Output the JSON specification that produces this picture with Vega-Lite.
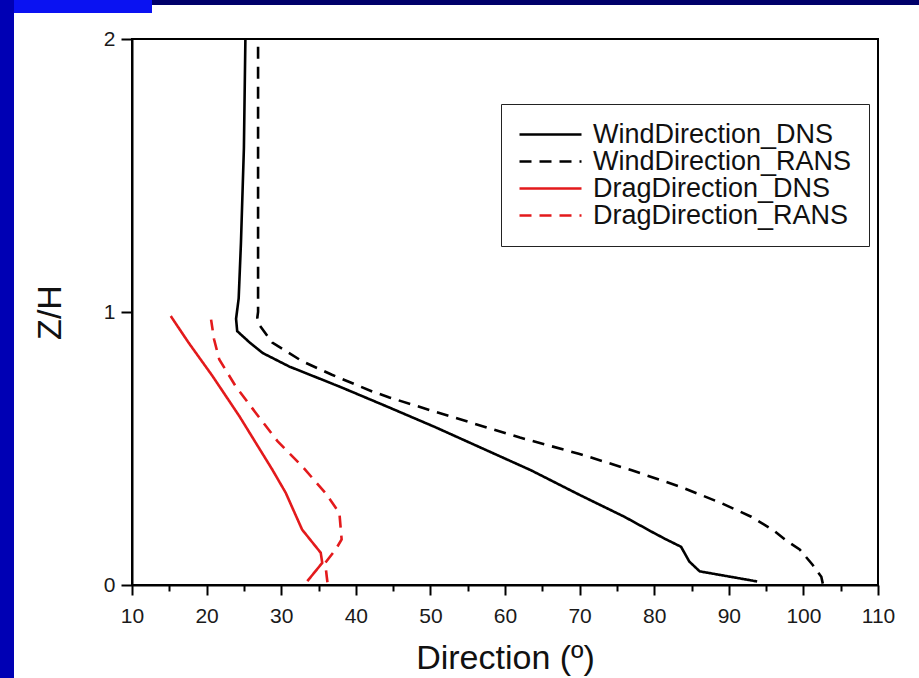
{
  "$schema": "https://vega.github.io/schema/vega-lite/v6.json",
  "background": "white",
  "padding": 0,
  "spacing": 0,
  "config": {"font": "Liberation Sans"},
  "hconcat": [
    {"width": 14, "height": 678, "view": {"fill": "#0000b4", "stroke": null}, "data": {"values": []}, "mark": "rect"},
    {
      "spacing": 0,
      "vconcat": [
        {
          "spacing": 0,
          "hconcat": [
            {"width": 138, "height": 13, "view": {"fill": "#0a12f2", "stroke": null}, "data": {"values": []}, "mark": "rect"},
            {"width": 767, "height": 5, "view": {"fill": "#00006a", "stroke": null}, "data": {"values": []}, "mark": "rect"}
          ]
        },
        {
          "spacing": 17,
          "hconcat": [
            {"width": 1, "height": 1, "view": {"stroke": null}, "data": {"values": []}, "mark": "rect"},
            {
              "width": 746,
              "height": 546,
              "title": {"text": " ", "fontSize": 10, "offset": 4, "anchor": "start"},
              "view": {"stroke": "black", "strokeWidth": 2},
              "data": {
                "values": [
                  {"series": "WindDirection_DNS", "d": 25.2, "z": 2.0},
                  {"series": "WindDirection_DNS", "d": 25.0, "z": 1.6},
                  {"series": "WindDirection_DNS", "d": 24.6, "z": 1.25},
                  {"series": "WindDirection_DNS", "d": 24.3, "z": 1.05},
                  {"series": "WindDirection_DNS", "d": 23.95, "z": 0.975},
                  {"series": "WindDirection_DNS", "d": 24.1, "z": 0.93},
                  {"series": "WindDirection_DNS", "d": 25.7, "z": 0.89},
                  {"series": "WindDirection_DNS", "d": 27.5, "z": 0.85},
                  {"series": "WindDirection_DNS", "d": 31.1, "z": 0.8},
                  {"series": "WindDirection_DNS", "d": 37.8, "z": 0.727},
                  {"series": "WindDirection_DNS", "d": 44.5, "z": 0.65},
                  {"series": "WindDirection_DNS", "d": 50.5, "z": 0.58},
                  {"series": "WindDirection_DNS", "d": 57.0, "z": 0.5},
                  {"series": "WindDirection_DNS", "d": 63.5, "z": 0.42},
                  {"series": "WindDirection_DNS", "d": 70.0, "z": 0.33},
                  {"series": "WindDirection_DNS", "d": 76.0, "z": 0.25},
                  {"series": "WindDirection_DNS", "d": 80.0, "z": 0.19},
                  {"series": "WindDirection_DNS", "d": 81.6, "z": 0.167},
                  {"series": "WindDirection_DNS", "d": 83.6, "z": 0.14},
                  {"series": "WindDirection_DNS", "d": 84.7, "z": 0.086},
                  {"series": "WindDirection_DNS", "d": 86.1, "z": 0.05},
                  {"series": "WindDirection_DNS", "d": 93.8, "z": 0.013},
                  {"series": "WindDirection_RANS", "d": 26.9, "z": 2.0},
                  {"series": "WindDirection_RANS", "d": 26.9, "z": 1.0},
                  {"series": "WindDirection_RANS", "d": 26.8, "z": 0.98},
                  {"series": "WindDirection_RANS", "d": 27.0, "z": 0.955},
                  {"series": "WindDirection_RANS", "d": 28.8, "z": 0.888},
                  {"series": "WindDirection_RANS", "d": 32.8, "z": 0.82},
                  {"series": "WindDirection_RANS", "d": 36.8, "z": 0.77},
                  {"series": "WindDirection_RANS", "d": 42.2, "z": 0.709},
                  {"series": "WindDirection_RANS", "d": 44.5, "z": 0.687},
                  {"series": "WindDirection_RANS", "d": 50.0, "z": 0.64},
                  {"series": "WindDirection_RANS", "d": 56.0, "z": 0.59},
                  {"series": "WindDirection_RANS", "d": 62.0, "z": 0.54},
                  {"series": "WindDirection_RANS", "d": 70.0, "z": 0.48},
                  {"series": "WindDirection_RANS", "d": 77.0, "z": 0.42},
                  {"series": "WindDirection_RANS", "d": 83.5, "z": 0.36},
                  {"series": "WindDirection_RANS", "d": 89.0, "z": 0.3},
                  {"series": "WindDirection_RANS", "d": 93.0, "z": 0.25},
                  {"series": "WindDirection_RANS", "d": 96.0, "z": 0.2},
                  {"series": "WindDirection_RANS", "d": 97.5, "z": 0.167},
                  {"series": "WindDirection_RANS", "d": 99.5, "z": 0.13},
                  {"series": "WindDirection_RANS", "d": 101.2, "z": 0.075},
                  {"series": "WindDirection_RANS", "d": 102.4, "z": 0.03},
                  {"series": "WindDirection_RANS", "d": 102.6, "z": 0.005},
                  {"series": "DragDirection_DNS", "d": 15.2, "z": 0.985},
                  {"series": "DragDirection_DNS", "d": 17.6, "z": 0.887},
                  {"series": "DragDirection_DNS", "d": 20.8, "z": 0.765},
                  {"series": "DragDirection_DNS", "d": 24.4, "z": 0.618},
                  {"series": "DragDirection_DNS", "d": 28.8, "z": 0.423},
                  {"series": "DragDirection_DNS", "d": 30.6, "z": 0.338},
                  {"series": "DragDirection_DNS", "d": 32.8, "z": 0.203},
                  {"series": "DragDirection_DNS", "d": 35.3, "z": 0.118},
                  {"series": "DragDirection_DNS", "d": 35.5, "z": 0.081},
                  {"series": "DragDirection_DNS", "d": 33.5, "z": 0.014},
                  {"series": "DragDirection_RANS", "d": 20.6, "z": 0.972},
                  {"series": "DragDirection_RANS", "d": 21.0, "z": 0.9},
                  {"series": "DragDirection_RANS", "d": 21.7, "z": 0.826},
                  {"series": "DragDirection_RANS", "d": 23.9, "z": 0.728},
                  {"series": "DragDirection_RANS", "d": 26.6, "z": 0.63},
                  {"series": "DragDirection_RANS", "d": 29.5, "z": 0.527},
                  {"series": "DragDirection_RANS", "d": 32.8, "z": 0.435},
                  {"series": "DragDirection_RANS", "d": 35.9, "z": 0.338},
                  {"series": "DragDirection_RANS", "d": 37.8, "z": 0.264},
                  {"series": "DragDirection_RANS", "d": 38.1, "z": 0.167},
                  {"series": "DragDirection_RANS", "d": 37.3, "z": 0.13},
                  {"series": "DragDirection_RANS", "d": 35.9, "z": 0.081},
                  {"series": "DragDirection_RANS", "d": 36.1, "z": 0.032},
                  {"series": "DragDirection_RANS", "d": 36.2, "z": 0.01}
                ]
              },
              "mark": {"type": "line", "strokeWidth": 2.6, "clip": true},
              "encoding": {
                "x": {
                  "field": "d",
                  "type": "quantitative",
                  "scale": {"domain": [10, 110], "nice": false, "zero": false},
                  "axis": {
                    "title": "Direction (º)",
                    "values": [10, 15, 20, 25, 30, 35, 40, 45, 50, 55, 60, 65, 70, 75, 80, 85, 90, 95, 100, 105, 110],
                    "labelExpr": "datum.value % 10 === 0 ? datum.label : ''",
                    "tickSize": {"condition": {"test": "datum.value % 10 === 0", "value": 10}, "value": 6},
                    "tickWidth": 2,
                    "tickColor": "black",
                    "domainColor": "black",
                    "domainWidth": 2,
                    "grid": false,
                    "labelFontSize": 21,
                    "labelColor": "#1a1a1a",
                    "labelPadding": 10,
                    "labelFlush": false,
                    "labelOverlap": false,
                    "titleFontSize": 34,
                    "titleFontWeight": "normal",
                    "titleColor": "#111111",
                    "titlePadding": 15
                  }
                },
                "y": {
                  "field": "z",
                  "type": "quantitative",
                  "scale": {"domain": [0, 2], "nice": false},
                  "axis": {
                    "title": "Z/H",
                    "values": [0, 1, 2],
                    "labelExpr": "format(datum.value, 'd')",
                    "tickSize": 11,
                    "tickWidth": 2,
                    "tickColor": "black",
                    "domainColor": "black",
                    "domainWidth": 2,
                    "grid": false,
                    "labelFontSize": 21,
                    "labelColor": "#1a1a1a",
                    "labelPadding": 6,
                    "labelFlush": false,
                    "labelOverlap": false,
                    "titleFontSize": 34,
                    "titleFontWeight": "normal",
                    "titleColor": "#111111",
                    "titlePadding": 36
                  }
                },
                "color": {
                  "field": "series",
                  "type": "nominal",
                  "scale": {
                    "domain": ["WindDirection_DNS", "WindDirection_RANS", "DragDirection_DNS", "DragDirection_RANS"],
                    "range": ["#000000", "#000000", "#e31a1c", "#e31a1c"]
                  },
                  "legend": {
                    "title": null,
                    "orient": "none",
                    "legendX": 501,
                    "legendY": 104,
                    "symbolType": "M-1,0H4.1667",
                    "symbolSize": 576,
                    "symbolStrokeWidth": 2.5,
                    "labelFontSize": 27,
                    "labelColor": "#111111",
                    "labelLimit": 500,
                    "labelOffset": 48,
                    "padding": 17,
                    "rowPadding": -5,
                    "strokeColor": "#222222",
                    "fillColor": "white"
                  }
                },
                "strokeDash": {
                  "field": "series",
                  "type": "nominal",
                  "scale": {
                    "domain": ["WindDirection_DNS", "WindDirection_RANS", "DragDirection_DNS", "DragDirection_RANS"],
                    "range": [[1, 0], [12, 8], [1, 0], [12, 8]]
                  },
                  "legend": {
                    "title": null,
                    "orient": "none",
                    "legendX": 501,
                    "legendY": 104,
                    "symbolType": "M-1,0H4.1667",
                    "symbolSize": 576,
                    "symbolStrokeWidth": 2.5,
                    "labelFontSize": 27,
                    "labelColor": "#111111",
                    "labelLimit": 500,
                    "labelOffset": 48,
                    "padding": 17,
                    "rowPadding": -5,
                    "strokeColor": "#222222",
                    "fillColor": "white"
                  }
                },
                "order": {"field": "z", "type": "quantitative"}
              }
            }
          ]
        }
      ]
    }
  ]
}
